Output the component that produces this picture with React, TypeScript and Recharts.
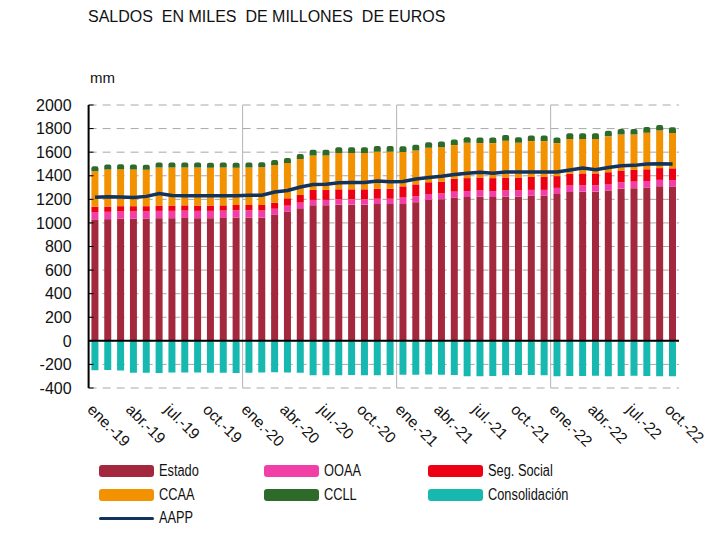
import React from 'react';
import {
    ComposedChart, Bar, Line, XAxis, YAxis, CartesianGrid, ReferenceLine
} from 'recharts';

const months = [
    'ene.-19', 'feb.-19', 'mar.-19', 'abr.-19', 'may.-19', 'jun.-19', 'jul.-19', 'ago.-19', 'sep.-19', 'oct.-19', 'nov.-19', 'dic.-19',
    'ene.-20', 'feb.-20', 'mar.-20', 'abr.-20', 'may.-20', 'jun.-20', 'jul.-20', 'ago.-20', 'sep.-20', 'oct.-20', 'nov.-20', 'dic.-20',
    'ene.-21', 'feb.-21', 'mar.-21', 'abr.-21', 'may.-21', 'jun.-21', 'jul.-21', 'ago.-21', 'sep.-21', 'oct.-21', 'nov.-21', 'dic.-21',
    'ene.-22', 'feb.-22', 'mar.-22', 'abr.-22', 'may.-22', 'jun.-22', 'jul.-22', 'ago.-22', 'sep.-22', 'oct.-22',
];

const estado = [
    1030, 1032, 1035, 1035, 1035, 1040, 1040, 1042, 1040, 1040, 1042, 1045, 1045,
    1045, 1068, 1096, 1124,
    1150, 1150, 1155, 1155, 1155, 1160, 1160,
    1160, 1175, 1195, 1200, 1215, 1220, 1225, 1220, 1225, 1225, 1230, 1230,
    1245, 1262, 1265, 1265, 1275, 1290, 1295, 1300, 1310, 1308,
];
const ooaa = [
    62, 62, 62, 62, 62, 62, 62, 62, 62, 62, 62, 62, 62,
    60, 52, 50, 48,
    45, 45, 45, 45, 45, 45, 45,
    55, 52, 50, 50, 50, 50, 50, 50, 50, 50, 50, 50,
    52, 55, 55, 55, 55, 55, 55, 55, 55, 55,
];
const segSocial = [
    45, 45, 45, 45, 45, 45, 45, 45, 45, 45, 45, 45, 45,
    47, 50, 63, 65,
    85, 85, 85, 85, 85, 85, 85,
    95, 100, 100, 100, 110, 110, 110, 110, 110, 110, 110, 110,
    100, 100, 100, 100, 100, 100, 100, 100, 100, 100,
];
const ccaa = [
    301, 314, 314, 311, 309, 323, 323, 321, 323, 321, 321, 316, 318,
    320, 322, 299, 306,
    292, 292, 308, 308, 308, 314, 314,
    292, 287, 292, 292, 285, 299, 292, 297, 312, 294, 304, 304,
    280, 295, 292, 292, 304, 304, 299, 310, 318, 300,
];
const ccll = [
    42, 42, 42, 42, 42, 42, 42, 42, 42, 42, 42, 42, 42,
    42, 42, 42, 42,
    48, 48, 48, 48, 48, 48, 48,
    48, 48, 48, 48, 48, 48, 48, 48, 48, 48, 48, 48,
    48, 48, 48, 48, 48, 48, 48, 48, 48, 48,
];
const consolidacion = [
    -250, -248, -252, -270, -270, -272, -268, -268, -268, -270, -270, -272, -270,
    -268, -266, -268, -270,
    -292, -292, -292, -290, -292, -292, -290,
    -288, -288, -285, -288, -290, -300, -300, -298, -292, -290, -290, -292,
    -300, -298, -298, -296, -300, -298, -296, -298, -300, -300,
];
const aapp = [
    1218, 1222, 1220, 1215, 1225, 1250, 1232, 1230, 1230, 1230, 1230, 1230, 1235,
    1235, 1262, 1275, 1305,
    1325, 1328, 1340, 1342, 1342, 1355, 1350,
    1352, 1372, 1385, 1395, 1410, 1422, 1430, 1422, 1432, 1432, 1432, 1432,
    1432, 1449, 1465, 1452, 1470, 1485, 1488, 1500, 1502, 1500,
];

const yTicks = [-400, -200, 0, 200, 400, 600, 800, 1000, 1200, 1400, 1600, 1800, 2000];

const data = months.map((month, i) => ({
    month,
    estado: estado[i],
    ooaa: ooaa[i],
    segSocial: segSocial[i],
    ccaa: ccaa[i],
    ccll: ccll[i],
    consolidacion: consolidacion[i],
    aapp: aapp[i],
}));

const FONT = '"Liberation Sans", Arial, sans-serif';

const legendItems = [
    { label: 'Estado', color: '#a3283d', col: 0, row: 0 },
    { label: 'OOAA', color: '#f23fa8', col: 1, row: 0 },
    { label: 'Seg. Social', color: '#ee0014', col: 2, row: 0 },
    { label: 'CCAA', color: '#f39200', col: 0, row: 1 },
    { label: 'CCLL', color: '#2e6b2a', col: 1, row: 1 },
    { label: 'Consolidación', color: '#17b8b0', col: 2, row: 1 },
    { label: 'AAPP', color: '#12335c', col: 0, row: 2, line: true },
];

// rotated month label, reads downward to the right
const MonthTick = ({ x, y, payload }: any) => (
    <g transform={`translate(${x},${y + 6})`}>
        <text x={0} y={0} dy={12} textAnchor="start" transform="rotate(45)"
            fontSize={15.5} fontFamily={FONT} fill="#111">
            {payload.value}
        </text>
    </g>
);

export default function App() {
    return (
        <div style={{ position: 'absolute', left: 0, top: 0, width: 725, height: 547, background: '#fff' }}>
            <div style={{ position: 'absolute', left: 88, top: 8, fontSize: 16, fontFamily: FONT, whiteSpace: 'pre', color: '#111' }}>
                {'SALDOS  EN MILES  DE MILLONES  DE EUROS'}
            </div>
            <div style={{ position: 'absolute', left: 90, top: 69, fontSize: 15, fontFamily: FONT, color: '#111' }}>mm</div>

            <ComposedChart
                width={725}
                height={547}
                data={data}
                stackOffset="sign"
                barCategoryGap="22%"
                margin={{ top: 105, right: 46, bottom: 99, left: 0 }}
                style={{ position: 'absolute', left: 0, top: 0 }}
            >
                <CartesianGrid vertical={false} stroke="#a8a8a8" strokeDasharray="8 6" />
                <CartesianGrid
                    horizontal={false}
                    stroke="#b4b4b4"
                    verticalCoordinatesGenerator={({ offset }: any) =>
                        [12, 24, 36].map(k => offset.left + (offset.width * k) / months.length)}
                />
                <XAxis dataKey="month" interval={2} axisLine={false} tickLine={false} height={60} tick={<MonthTick />} />
                <YAxis
                    domain={[-400, 2000]}
                    ticks={yTicks}
                    width={88.6}
                    axisLine={{ stroke: '#000', strokeWidth: 2 }}
                    tickLine={{ stroke: '#000' }}
                    tickSize={-5}
                    tickMargin={22}
                    tick={{ fontSize: 16, fontFamily: FONT, fill: '#111' }}
                />
                <Bar dataKey="estado" stackId="a" fill="#a3283d" isAnimationActive={false} />
                <Bar dataKey="ooaa" stackId="a" fill="#f23fa8" isAnimationActive={false} />
                <Bar dataKey="segSocial" stackId="a" fill="#ee0014" isAnimationActive={false} />
                <Bar dataKey="ccaa" stackId="a" fill="#f39200" isAnimationActive={false} />
                <Bar dataKey="ccll" stackId="a" fill="#2e6b2a" radius={[2, 2, 0, 0]} isAnimationActive={false} />
                <Bar dataKey="consolidacion" stackId="a" fill="#17b8b0" radius={[0, 0, 2, 2]} isAnimationActive={false} />
                <ReferenceLine y={0} stroke="#000" strokeWidth={2} />
                <Line dataKey="aapp" type="linear" stroke="#12335c" strokeWidth={3.5} dot={false} isAnimationActive={false} />
            </ComposedChart>

            {legendItems.map(item => (
                <div key={item.label} style={{
                    position: 'absolute',
                    left: 99 + item.col * 164.5,
                    top: 462 + item.row * 23.5,
                    height: 18,
                    display: 'flex',
                    alignItems: 'center',
                }}>
                    <div style={{
                        width: 55,
                        height: item.line ? 3 : 12,
                        background: item.color,
                        borderRadius: 3,
                    }} />
                    <span style={{
                        marginLeft: 5,
                        fontSize: 16,
                        fontFamily: FONT,
                        color: '#111',
                        display: 'inline-block',
                        transform: 'scaleX(0.8)',
                        transformOrigin: 'left center',
                    }}>{item.label}</span>
                </div>
            ))}
        </div>
    );
}
